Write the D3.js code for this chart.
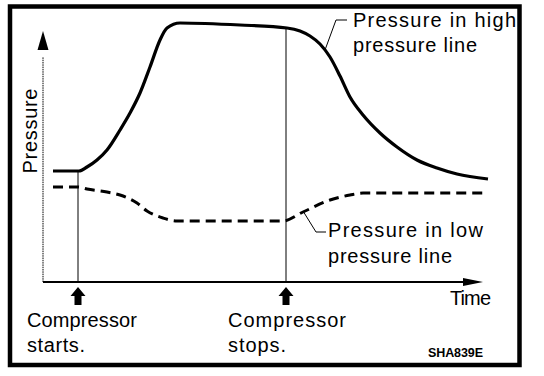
<!DOCTYPE html>
<html><head><meta charset="utf-8">
<script src="https://cdn.jsdelivr.net/npm/d3@7"></script>
<style>
html,body{margin:0;padding:0;background:#fff;}
svg text{font-family:"Liberation Sans",Arial,Helvetica,sans-serif;fill:#000;}
</style></head>
<body>
<svg id="c" width="544" height="376"></svg>
<script>
// ---- data (arbitrary time / pressure units) ----
const highT = [10,36,44,54,64,77,87,97,107,117,124,137,197,244,257,267,277,287,297,307,320,337,354,374,394,414,445];
const highP = [111,111,115,122,132,152,169,189,215,242,254,259,257,254,251,246,238,225,206,185,167,149,135,122,114,108,103];
const lowT  = [10,35,44,64,77,94,104,120,134,240,260,287,307,320,445];
const lowP  = [95,95,93,90,87,79,71,64,61,61,70,82,87,89,89];
const eventT = [35,243];
const eventLabels = [["Compressor","starts."],["Compressor","stops."]];
const seriesLabels = [["Pressure in high","pressure line"],["Pressure in low","pressure line"]];
const axisLabels = {x:"Time", y:"Pressure"};
const figCode = "SHA839E";

const svg = d3.select("#c");
const x = d3.scaleLinear().domain([0,445]).range([43,488]);
const y = d3.scaleLinear().domain([0,260]).range([282,22]);

// frame
svg.append("rect").attr("x",10).attr("y",6.5).attr("width",509.5).attr("height",358.5)
  .attr("fill","none").attr("stroke","#000").attr("stroke-width",4.5);

// axes
const ax0 = x(0), ay0 = y(0);
svg.append("line").attr("x1",ax0).attr("y1",ay0).attr("x2",ax0).attr("y2",y(225))
  .attr("stroke","#000").attr("stroke-width",1).attr("stroke-dasharray","1.5,0.8");
svg.append("path").attr("d",`M${ax0},${y(251)} L${ax0-5.5},${y(232)} L${ax0+5.5},${y(232)} Z`).attr("fill","#000");
svg.append("line").attr("x1",ax0).attr("y1",ay0).attr("x2",x(425)).attr("y2",ay0)
  .attr("stroke","#000").attr("stroke-width",2);
svg.append("path").attr("d",`M${x(440)},${ay0} L${x(420)},${ay0-4} L${x(420)},${ay0+4} Z`).attr("fill","#000");

// event vertical lines
const highData = highT.map((t,i)=>({t,p:highP[i]}));
const lowData = lowT.map((t,i)=>({t,p:lowP[i]}));
function interp(data,t){
  for(let i=1;i<data.length;i++){ if(t<=data[i].t){const a=data[i-1],b=data[i];return a.p+(b.p-a.p)*(t-a.t)/(b.t-a.t);} }
  return data[data.length-1].p;
}
eventT.forEach(t=>{
  svg.append("line").attr("x1",x(t)).attr("x2",x(t)).attr("y1",ay0).attr("y2",y(interp(highData,t)))
    .attr("stroke","#000").attr("stroke-width",1);
  const cx = x(t);
  svg.append("path").attr("d",
    `M${cx},287 L${cx+7.5},296 L${cx+3.5},296 L${cx+3.5},305 L${cx-3.5},305 L${cx-3.5},296 L${cx-7.5},296 Z`)
    .attr("fill","#000");
});

// curves
const line = d3.line().x(d=>x(d.t)).y(d=>y(d.p)).curve(d3.curveMonotoneX);
svg.append("path").datum(highData).attr("d",line).attr("fill","none").attr("stroke","#000")
  .attr("stroke-width",3.2).attr("stroke-linejoin","round");
svg.append("path").datum(lowData).attr("d",line).attr("fill","none").attr("stroke","#000")
  .attr("stroke-width",3).attr("stroke-dasharray","10,6");

// leaders
const leadHigh = [[x(282),y(232)],[x(293),y(262)],[x(304),y(262)]];
const leadLow  = [[x(260),y(71)],[x(273),y(50)],[x(283),y(50)]];
[leadHigh,leadLow].forEach(pts=>{
  svg.append("path").attr("d",d3.line()(pts)).attr("fill","none").attr("stroke","#000").attr("stroke-width",1);
});

// texts
function txt(s,xx,yy,opt={}){
  const t = svg.append("text").attr("x",xx).attr("y",yy).attr("font-size",opt.size||20).text(s);
  if(opt.len){t.attr("textLength",opt.len).attr("lengthAdjust","spacing");}
  if(opt.weight) t.attr("font-weight",opt.weight);
  return t;
}
txt(seriesLabels[0][0],353,27,{len:163});
txt(seriesLabels[0][1],353,52,{len:124});
txt(seriesLabels[1][0],328,237,{len:155});
txt(seriesLabels[1][1],328,263,{len:124});
txt(axisLabels.x,450,305,{len:41});
txt(eventLabels[0][0],27,327,{len:110});
txt(eventLabels[0][1],27,352,{len:58});
txt(eventLabels[1][0],228,327,{len:118});
txt(eventLabels[1][1],228,352,{len:58});
txt(figCode,428,357,{size:12.5,weight:"bold",len:55});
svg.append("text").attr("transform","translate(37,131) rotate(-90)").attr("text-anchor","middle")
  .attr("font-size",20).attr("textLength",85).attr("lengthAdjust","spacing").text(axisLabels.y);
</script>
</body></html>
